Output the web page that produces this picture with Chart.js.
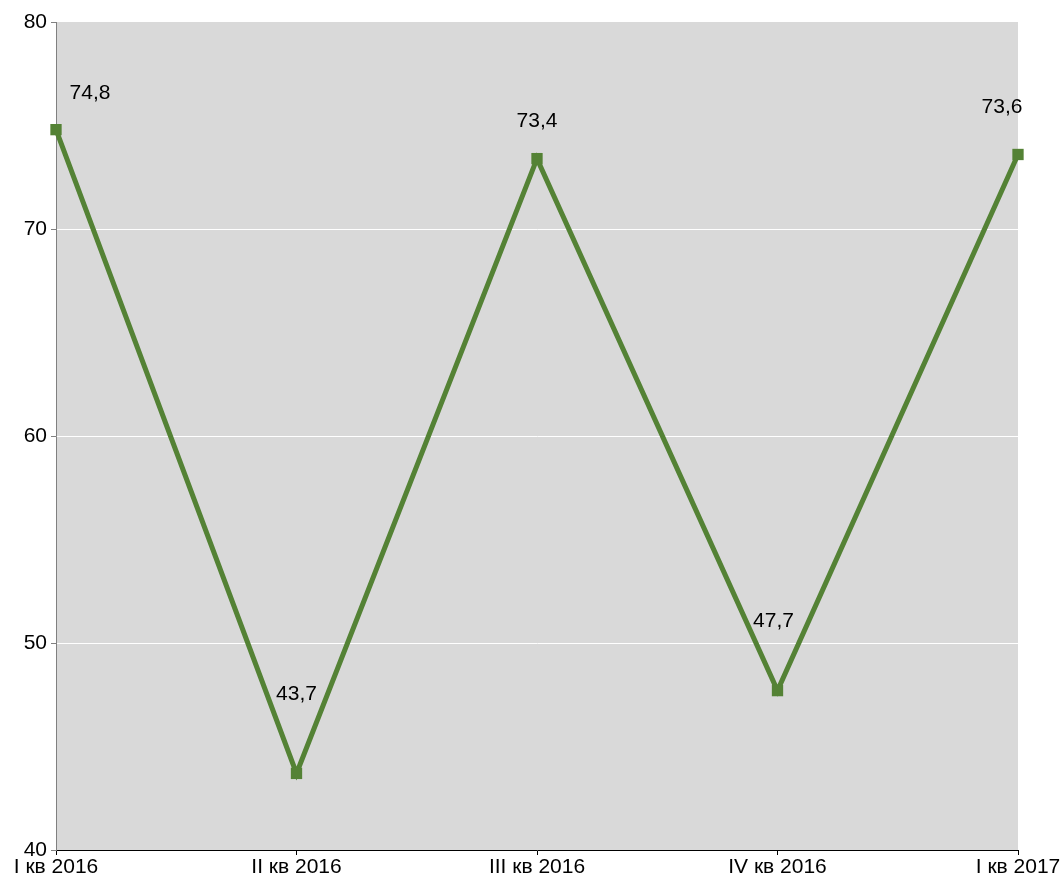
<!DOCTYPE html>
<html>
<head>
<meta charset="utf-8">
<script src="https://cdn.jsdelivr.net/npm/chart.js@4/dist/chart.umd.min.js"></script>
<style>
  html, body { margin: 0; padding: 0; background: #fff; }
  #wrap { width: 1061px; height: 878px; }
</style>
</head>
<body>
<div id="wrap"><canvas id="chart"></canvas></div>
<script>
const categories = ["I кв 2016", "II кв 2016", "III кв 2016", "IV кв 2016", "I кв 2017"];
const values = [74.8, 43.7, 73.4, 47.7, 73.6];
const yTicks = [40, 50, 60, 70, 80];

// Graue Fläche hinter dem Diagramm
const plotBackground = {
    id: "plotBackground",
    beforeDraw(chart) {
        const { ctx, chartArea: a } = chart;
        ctx.save();
        ctx.fillStyle = "#d9d9d9";
        ctx.fillRect(a.left, a.top, a.right - a.left, a.bottom - a.top);
        ctx.restore();
    }
};

// Wertbeschriftungen, Versatz pro Punkt wie im Original
const labelOffsets = [[34, -36], [0, -79], [0, -37], [-4, -69], [-16, -47]];
const valueLabels = {
    id: "valueLabels",
    afterDatasetsDraw(chart) {
        const ctx = chart.ctx;
        const meta = chart.getDatasetMeta(0);
        ctx.save();
        ctx.font = "21px 'Liberation Sans', Arial, sans-serif";
        ctx.fillStyle = "#000";
        ctx.textAlign = "center";
        ctx.textBaseline = "middle";
        meta.data.forEach((pt, i) => {
            const [dx, dy] = labelOffsets[i];
            const text = values[i].toFixed(1).replace(".", ",");
            ctx.fillText(text, pt.x + dx, pt.y + dy);
        });
        ctx.restore();
    }
};

new Chart(document.getElementById("chart"), {
    type: "line",
    data: {
        labels: categories,
        datasets: [{
            data: values,
            borderColor: "#548235",
            backgroundColor: "#548235",
            borderWidth: 5,
            pointStyle: "rect",
            pointRadius: 8,
            pointBorderWidth: 0,
            tension: 0
        }]
    },
    options: {
        responsive: true,
        maintainAspectRatio: false,
        animation: false,
        layout: { padding: { top: 22, right: 43, left: 0, bottom: 0 } },
        plugins: {
            legend: { display: false },
            tooltip: { enabled: false }
        },
        scales: {
            x: {
                offset: false,
                afterFit: s => { s.height = 28; },
                grid: {
                    drawOnChartArea: false,
                    drawTicks: true,
                    tickLength: 5,
                    tickColor: "#000"
                },
                border: { color: "#000", width: 1 },
                ticks: {
                    color: "#000",
                    padding: 0,
                    maxRotation: 0,
                    autoSkip: false,
                    font: { family: "'Liberation Sans', Arial, sans-serif", size: 21 }
                }
            },
            y: {
                min: 40,
                max: 80,
                afterFit: s => { s.width = 56; },
                afterBuildTicks: s => { s.ticks = yTicks.map(v => ({ value: v })); },
                grid: {
                    color: c => (c.tick && (c.tick.value === 40 || c.tick.value === 80)) ? "rgba(0,0,0,0)" : "#ffffff",
                    lineWidth: 1,
                    tickLength: 5,
                    tickColor: "#808080"
                },
                border: { color: "#808080", width: 1 },
                ticks: {
                    color: "#000",
                    padding: 4,
                    font: { family: "'Liberation Sans', Arial, sans-serif", size: 21 }
                }
            }
        }
    },
    plugins: [plotBackground, valueLabels]
});
</script>
</body>
</html>
